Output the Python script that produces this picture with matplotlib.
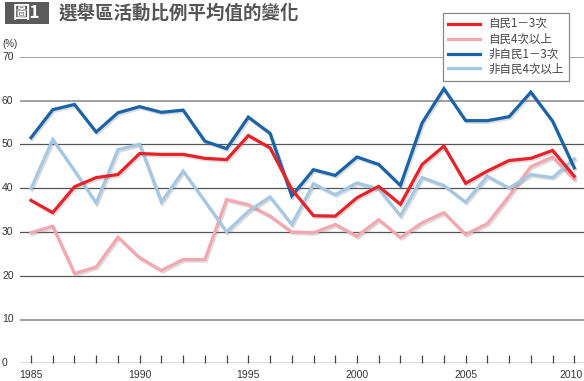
import matplotlib
matplotlib.use("Agg")
import matplotlib.pyplot as plt
import matplotlib.patheffects as pe
from matplotlib.patches import Rectangle

years = list(range(1985, 2011))
ldp_1_3 = [37.2, 34.4, 40.3, 42.4, 43.1, 47.9, 47.7, 47.7, 46.8, 46.5, 52.0, 49.2, 39.7,
           33.7, 33.6, 37.8, 40.4, 36.3, 45.4, 49.6, 41.1, 43.9, 46.3, 46.8, 48.6, 42.7]
ldp_4plus = [29.8, 31.3, 20.5, 22.0, 28.8, 24.1, 21.2, 23.7, 23.7, 37.4, 36.2, 33.6, 30.0,
             29.8, 31.7, 29.0, 32.8, 28.7, 32.1, 34.4, 29.4, 31.9, 38.2, 44.9, 47.1, 42.0]
non_ldp_1_3 = [51.5, 57.9, 59.1, 52.8, 57.2, 58.6, 57.3, 57.8, 50.7, 49.0, 56.2, 52.5, 38.2,
               44.2, 42.9, 47.1, 45.4, 40.6, 54.9, 62.7, 55.4, 55.4, 56.3, 61.9, 55.3, 44.6]
non_ldp_4plus = [39.9, 51.1, 44.0, 36.6, 48.8, 50.0, 36.8, 43.9, 37.0, 30.0, 34.7, 38.0, 31.7,
                 41.0, 38.5, 41.2, 39.8, 33.7, 42.4, 40.6, 36.8, 42.7, 40.0, 43.1, 42.4, 46.7]

labels = ["自民1－3次", "自民4次以上", "非自民1－3次", "非自民4次以上"]
colors = ["#e8212b", "#f4a7b0", "#1a63a8", "#a5c7e2"]
yticks = [0, 10, 20, 30, 40, 50, 60, 70]
xticklabels = [1985, 1990, 1995, 2000, 2005, 2010]

cjk = ["Noto Sans CJK TC", "DejaVu Sans"]
num_font = ["Liberation Sans", "DejaVu Sans"]

W, H = 584, 381
fig = plt.figure(figsize=(W / 100, H / 100), dpi=100)
fig.patch.set_facecolor("white")

x0, x1 = 20, 584
y0, y1 = 363.3, 56.7
ax = fig.add_axes([x0 / W, 1 - y0 / H, (x1 - x0) / W, (y0 - y1) / H])
ax.set_xlim(1985 - 11 / 21.73, 2010 + 9.7 / 21.73)
ax.set_ylim(0, 70)
for s in ax.spines.values():
    s.set_visible(False)

# gridlines
for v in yticks[1:]:
    light = v in (10, 60, 70)
    ax.axhline(v, color="#a0a0a0" if light else "#555555",
               lw=1.4 if light else 0.9, zorder=1)
ax.axhline(0, color="#444444", lw=1.0, zorder=1)

ax.set_yticks([])
ax.set_xticks(years)
ax.tick_params(axis="x", direction="in", length=6, width=0.9, color="#444444",
               labelbottom=False, pad=2)

order = [1, 3, 2, 0]
data = [ldp_1_3, ldp_4plus, non_ldp_1_3, non_ldp_4plus]
handles = [None] * 4
for i in order:
    ln, = ax.plot(years, data[i], color=colors[i], lw=2.3, zorder=3 + order.index(i),
                  solid_joinstyle="miter",
                  path_effects=[pe.SimpleLineShadow(offset=(1, -1.2), shadow_color="#777777",
                                                    alpha=0.25), pe.Normal()])
    handles[i] = ln

# tick labels
for v in yticks:
    fig.text(2 / W, 1 - (y0 - (y0 - y1) * v / 70) / H, str(v), ha="left", va="center",
             fontsize=7.5, color="#333333", family=num_font)
for yr in xticklabels:
    xp = 31 + (yr - 1985) * 21.73
    if yr == 2010:
        fig.text(583 / W, 1 - 375.5 / H, str(yr), ha="right", va="center",
                 fontsize=7.5, color="#333333", family=num_font)
    else:
        fig.text(xp / W, 1 - 375.5 / H, str(yr), ha="center", va="center",
                 fontsize=7.5, color="#333333", family=num_font)
fig.text(2 / W, 1 - 44 / H, "(%)", ha="left", va="center", fontsize=7,
         color="#333333", family=num_font)

# title
fig.patches.append(Rectangle((5 / W, 1 - 24 / H), 44 / W, 22 / H, transform=fig.transFigure,
                             facecolor="#5a5a5a", edgecolor="none"))
fig.text(27 / W, 1 - 13 / H, "圖1", ha="center", va="center", fontsize=12.5,
         color="white", family=cjk, fontweight="bold")
fig.text(59 / W, 1 - 13.5 / H, "選舉區活動比例平均值的變化", ha="left", va="center",
         fontsize=13.3, color="#555555", family=cjk, fontweight="bold")

leg = ax.legend(handles, labels, loc="upper left",
                bbox_to_anchor=(443 / W, 1 - 13 / H), bbox_transform=fig.transFigure,
                prop={"family": cjk, "size": 8.3}, frameon=True, fancybox=False,
                edgecolor="#888888", framealpha=1, borderpad=0.45, labelspacing=0.15,
                handlelength=2.8, handletextpad=0.7, borderaxespad=0)
leg.get_frame().set_linewidth(0.9)
for t in leg.get_texts():
    t.set_color("#444444")
for lh in leg.get_lines():
    lh.set_path_effects([])
    lh.set_linewidth(2.3)
leg.set_zorder(10)

fig.savefig("out.png", dpi=100, facecolor="white")
